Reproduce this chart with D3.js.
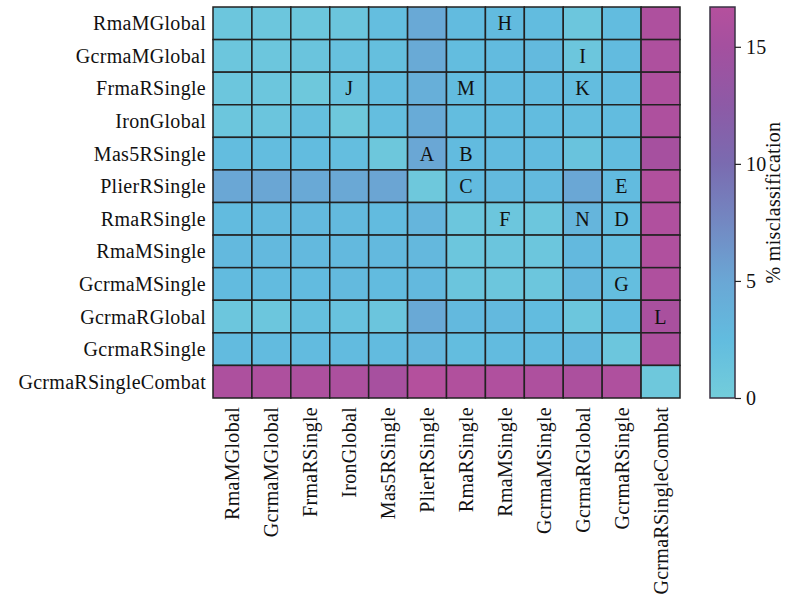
<!DOCTYPE html>
<html>
<head>
<meta charset="utf-8">
<script src="https://cdn.jsdelivr.net/npm/d3@7"></script>
<style>
  html, body { margin: 0; padding: 0; background: #fff; }
  svg { display: block; }
  text { font-family: "Liberation Serif", "DejaVu Serif", serif; fill: #111; letter-spacing: 0.3px; }
</style>
</head>
<body>
<svg id="chart" width="796" height="599"></svg>
<script>
// Normalisation methods compared pairwise (rows: training, columns: test)
const methods = [
  "RmaMGlobal", "GcrmaMGlobal", "FrmaRSingle", "IronGlobal", "Mas5RSingle",
  "PlierRSingle", "RmaRSingle", "RmaMSingle", "GcrmaMSingle", "GcrmaRGlobal",
  "GcrmaRSingle", "GcrmaRSingleCombat"
];

// % misclassification for each row/column pair
const misclassification = [
  [1.0, 1.1, 1.0, 1.2, 2.2, 4.8, 2.6, 2.6, 2.5, 1.1, 2.5, 16.0],
  [1.0, 1.0, 1.3, 1.8, 2.0, 4.7, 2.4, 2.6, 2.7, 1.0, 2.6, 16.0],
  [1.0, 1.1, 0.8, 1.6, 2.3, 4.1, 2.5, 2.6, 2.6, 2.4, 2.6, 16.0],
  [1.1, 1.2, 2.0, 0.8, 2.2, 4.5, 2.4, 2.5, 2.5, 2.2, 2.5, 16.0],
  [2.3, 2.4, 2.5, 2.2, 0.9, 5.0, 2.6, 2.6, 2.6, 1.4, 2.5, 15.2],
  [5.0, 5.1, 4.8, 4.9, 5.2, 0.8, 2.6, 2.7, 2.7, 5.0, 2.6, 16.3],
  [2.6, 2.7, 2.8, 2.7, 2.6, 3.3, 1.1, 1.1, 1.0, 3.3, 2.4, 16.2],
  [2.8, 2.8, 2.8, 2.8, 2.8, 3.0, 1.1, 1.2, 1.0, 2.8, 2.2, 16.2],
  [2.6, 2.6, 2.6, 2.7, 2.6, 2.8, 1.2, 1.0, 1.0, 3.0, 2.2, 16.1],
  [1.0, 1.0, 2.0, 1.6, 1.2, 4.8, 2.8, 2.8, 2.5, 1.0, 2.5, 15.5],
  [2.6, 2.6, 2.6, 2.6, 2.6, 3.1, 2.4, 2.6, 2.6, 2.8, 1.1, 15.9],
  [15.9, 16.0, 15.9, 15.8, 15.3, 16.6, 16.3, 16.2, 16.0, 15.8, 16.1, 0.7]
];

// Letter marks placed on selected cells
const markLetters = ["H", "I", "J", "M", "K", "A", "B", "C", "E", "F", "N", "D", "G", "L"];
const markRows =    [0,   1,   2,   2,   2,   4,   4,   5,   5,   6,   6,   6,   8,   9];
const markCols =    [7,   9,   3,   6,   9,   5,   6,   6,   10,  7,   9,   10,  10,  11];

// Colour bar
const colorTicks = [0, 5, 10, 15];
const colorMax = 16.7;
const colorbarTitle = "% misclassification";

// Colour ramp: cyan -> blue -> violet -> magenta
const rampStops = [0, 2.5, 5, 7.5, 10, 12.5, 15, 16.7];
const rampColors = ["#73cddb", "#62bcdf", "#6aa7d5", "#7388c2", "#7a6bb0", "#8d5aa6", "#a4509f", "#b5509d"];

const FONT = 20;

const svg = d3.select("#chart");

const plot = { left: 213, top: 7, right: 680, bottom: 398 };

const x = d3.scaleBand().domain(methods).range([plot.left, plot.right]).paddingInner(0).paddingOuter(0);
const y = d3.scaleBand().domain(methods).range([plot.top, plot.bottom]).paddingInner(0).paddingOuter(0);

const color = d3.scaleLinear().domain(rampStops).range(rampColors).interpolate(d3.interpolateRgb).clamp(true);

const cells = [];
misclassification.forEach((row, i) => row.forEach((v, j) => cells.push({ r: methods[i], c: methods[j], v })));

// Heatmap cells
svg.append("g")
  .selectAll("rect")
  .data(cells)
  .join("rect")
  .attr("x", d => x(d.c))
  .attr("y", d => y(d.r))
  .attr("width", x.bandwidth())
  .attr("height", y.bandwidth())
  .attr("fill", d => color(d.v))
  .attr("stroke", "#222")
  .attr("stroke-width", 1.5);

// Letters on cells
svg.append("g")
  .selectAll("text")
  .data(markLetters.map((t, k) => ({ t, r: methods[markRows[k]], c: methods[markCols[k]] })))
  .join("text")
  .attr("x", d => x(d.c) + x.bandwidth() / 2)
  .attr("y", d => y(d.r) + y.bandwidth() / 2)
  .attr("text-anchor", "middle")
  .attr("dominant-baseline", "central")
  .attr("font-size", FONT)
  .text(d => d.t);

// Row labels
svg.append("g")
  .selectAll("text")
  .data(methods)
  .join("text")
  .attr("x", plot.left - 7)
  .attr("y", d => y(d) + y.bandwidth() / 2)
  .attr("text-anchor", "end")
  .attr("dominant-baseline", "central")
  .attr("font-size", FONT)
  .text(d => d);

// Column labels (rotated)
svg.append("g")
  .selectAll("text")
  .data(methods)
  .join("text")
  .attr("transform", d => `translate(${x(d) + x.bandwidth() / 2},${plot.bottom + 9}) rotate(-90)`)
  .attr("text-anchor", "end")
  .attr("dominant-baseline", "central")
  .attr("font-size", FONT)
  .text(d => d);

// Colour bar
const cb = { left: 710, width: 25, top: plot.top, bottom: plot.bottom };
const cbScale = d3.scaleLinear().domain([0, colorMax]).range([cb.bottom, cb.top]);

const defs = svg.append("defs");
const grad = defs.append("linearGradient")
  .attr("id", "cbgrad")
  .attr("x1", 0).attr("y1", 1).attr("x2", 0).attr("y2", 0);
grad.selectAll("stop")
  .data(rampStops)
  .join("stop")
  .attr("offset", d => d / colorMax)
  .attr("stop-color", d => color(d));

svg.append("rect")
  .attr("x", cb.left)
  .attr("y", cb.top)
  .attr("width", cb.width)
  .attr("height", cb.bottom - cb.top)
  .attr("fill", "url(#cbgrad)")
  .attr("stroke", "#3a3344")
  .attr("stroke-width", 1.5);

const cbAxis = svg.append("g")
  .attr("transform", `translate(${cb.left + cb.width},0)`)
  .call(d3.axisRight(cbScale).tickValues(colorTicks).tickSize(6).tickPadding(5).tickFormat(d3.format("d")));
cbAxis.select(".domain").remove();
cbAxis.selectAll(".tick line").attr("stroke", "#222").attr("stroke-width", 1.2);
cbAxis.selectAll(".tick text")
  .attr("font-family", "Liberation Serif, DejaVu Serif, serif")
  .attr("font-size", FONT)
  .attr("fill", "#111");

svg.append("text")
  .attr("transform", `translate(773,${(cb.top + cb.bottom) / 2}) rotate(-90)`)
  .attr("text-anchor", "middle")
  .attr("dominant-baseline", "central")
  .attr("font-size", FONT)
  .text(colorbarTitle);
</script>
</body>
</html>
